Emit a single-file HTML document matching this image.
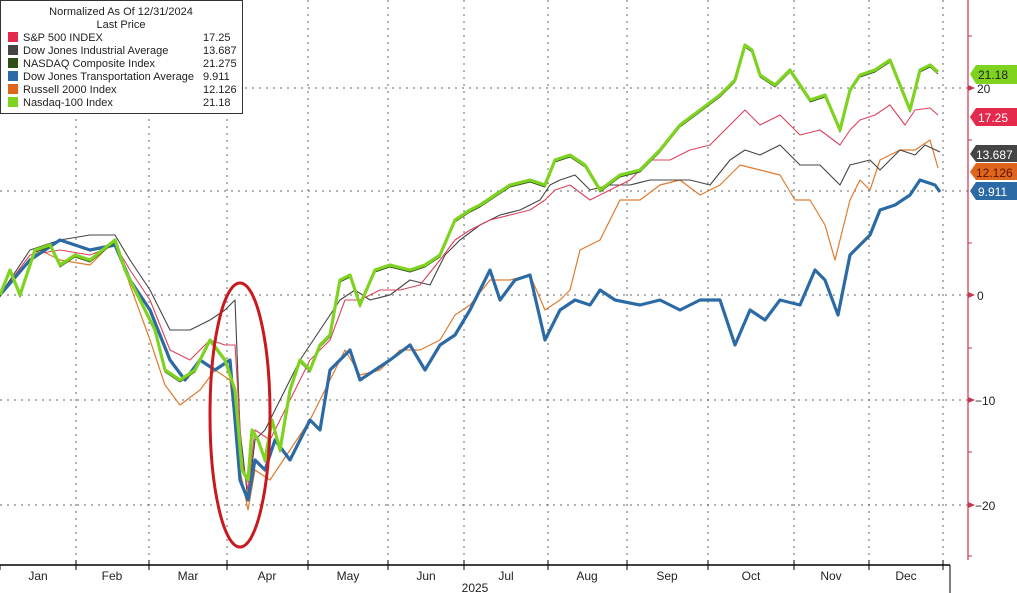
<!DOCTYPE html>
<html><head><meta charset="utf-8"><style>
body{margin:0;background:#fff;}
svg{display:block;font-family:"Liberation Sans",sans-serif;}
</style></head><body>
<svg width="1017" height="593" viewBox="0 0 1017 593" xmlns="http://www.w3.org/2000/svg">
<rect width="1017" height="593" fill="#fff"/>
<g stroke="#666" stroke-width="1" stroke-dasharray="2,5">
<line x1="0" y1="88" x2="968" y2="88"/><line x1="0" y1="191" x2="968" y2="191"/><line x1="0" y1="295" x2="968" y2="295"/><line x1="0" y1="400" x2="968" y2="400"/><line x1="0" y1="505" x2="968" y2="505"/>
<line x1="76" y1="0" x2="76" y2="565"/><line x1="149" y1="0" x2="149" y2="565"/><line x1="227" y1="0" x2="227" y2="565"/><line x1="308" y1="0" x2="308" y2="565"/><line x1="388" y1="0" x2="388" y2="565"/><line x1="464" y1="0" x2="464" y2="565"/><line x1="548" y1="0" x2="548" y2="565"/><line x1="627" y1="0" x2="627" y2="565"/><line x1="708" y1="0" x2="708" y2="565"/><line x1="794" y1="0" x2="794" y2="565"/><line x1="869" y1="0" x2="869" y2="565"/><line x1="943" y1="0" x2="943" y2="565"/>
</g>
<g fill="none" stroke-linejoin="round">
<polyline stroke="#e07a2e" stroke-width="1.2" points="0,295 20,270 40,250 60,260 90,265 115,240 130,285 150,340 165,385 180,405 200,390 215,370 230,380 240,470 248,510 255,470 270,480 290,450 310,420 330,380 345,350 360,375 380,370 400,350 420,350 440,340 455,315 470,305 490,280 510,280 530,275 545,310 560,300 570,290 580,250 600,240 620,200 640,200 660,185 680,180 700,195 720,185 740,165 760,170 780,175 795,200 810,200 825,225 835,260 850,200 860,180 870,190 880,160 900,150 915,150 930,140 938,168"/>
<polyline stroke="#444" stroke-width="1.1" points="0,295 30,250 60,240 90,235 115,235 130,260 150,290 170,330 190,330 210,320 225,310 235,300 240,430 248,500 255,440 265,430 280,400 300,360 320,330 340,300 355,290 370,300 390,295 410,280 430,285 445,255 460,240 480,225 500,215 520,210 540,200 550,185 560,180 575,175 590,190 610,185 630,185 650,180 670,180 690,180 710,185 730,160 745,150 760,155 780,145 800,165 820,165 840,185 850,165 870,160 880,170 900,150 915,155 925,145 940,152"/>
<polyline stroke="#d9435e" stroke-width="1.1" points="0,295 30,255 60,250 90,255 115,245 130,270 150,300 170,350 190,360 210,340 225,345 235,345 242,460 248,490 255,430 270,440 290,400 310,360 330,340 345,300 360,300 380,290 400,290 420,285 440,260 455,240 470,230 490,220 510,215 530,210 545,200 555,190 570,185 590,200 610,190 630,180 650,160 670,160 690,150 710,145 730,125 745,110 760,125 780,115 800,135 820,130 840,145 850,130 860,120 875,115 890,105 905,125 915,110 930,108 938,115"/>
<polyline stroke="#2c6aa5" stroke-width="3.2" points="0,295 30,260 60,240 90,250 115,245 130,280 150,310 170,360 185,380 200,360 215,370 230,360 240,480 248,500 255,460 265,470 275,440 290,460 300,440 310,420 320,430 330,370 340,360 350,350 360,380 375,370 390,360 410,345 425,370 440,345 455,335 470,310 480,290 490,270 500,300 515,280 530,275 545,340 560,310 575,300 590,305 600,290 615,300 640,305 660,300 680,310 700,300 720,300 735,345 750,310 765,320 780,300 800,305 815,270 825,280 838,315 850,255 870,235 880,210 895,205 910,195 920,180 935,185 940,192"/>
<polyline stroke="#2e5016" stroke-width="1" points="0,297 10,272 20,297 35,252 50,247 60,267 75,257 90,262 115,242 125,272 140,302 155,332 165,372 180,382 195,372 210,342 225,362 235,392 242,472 248,482 252,432 258,442 265,462 272,422 280,452 290,392 300,362 310,372 320,347 330,337 340,282 350,277 360,307 375,272 390,267 410,272 425,267 440,257 455,222 470,212 480,207 495,197 510,187 530,182 545,187 555,162 570,157 585,167 600,192 620,177 640,172 660,152 680,127 700,112 720,97 735,82 745,47 752,52 760,77 775,87 790,72 810,102 825,97 840,132 850,92 860,77 875,72 890,62 900,87 910,112 920,72 930,67 938,74"/>
<polyline stroke="#7ed321" stroke-width="3.2" points="0,295 10,270 20,295 35,250 50,245 60,265 75,255 90,260 115,240 125,270 140,300 155,330 165,370 180,380 195,370 210,340 225,360 235,390 242,470 248,480 252,430 258,440 265,460 272,420 280,450 290,390 300,360 310,370 320,345 330,335 340,280 350,275 360,305 375,270 390,265 410,270 425,265 440,255 455,220 470,210 480,205 495,195 510,185 530,180 545,185 555,160 570,155 585,165 600,190 620,175 640,170 660,150 680,125 700,110 720,95 735,80 745,45 752,50 760,75 775,85 790,70 810,100 825,95 840,130 850,90 860,75 875,70 890,60 900,85 910,110 920,70 930,65 938,72"/>
</g>
<ellipse cx="240" cy="415" rx="30" ry="132" fill="none" stroke="#c8191e" stroke-width="3"/>
<line x1="0" y1="565" x2="950" y2="565" stroke="#000" stroke-width="1.5"/>
<g stroke="#000"><line x1="0" y1="565" x2="0" y2="570"/><line x1="76" y1="560" x2="76" y2="570"/><line x1="149" y1="560" x2="149" y2="570"/><line x1="227" y1="560" x2="227" y2="570"/><line x1="308" y1="560" x2="308" y2="570"/><line x1="388" y1="560" x2="388" y2="570"/><line x1="464" y1="560" x2="464" y2="570"/><line x1="548" y1="560" x2="548" y2="570"/><line x1="627" y1="560" x2="627" y2="570"/><line x1="708" y1="560" x2="708" y2="570"/><line x1="794" y1="560" x2="794" y2="570"/><line x1="869" y1="560" x2="869" y2="570"/><line x1="943" y1="560" x2="943" y2="570"/><line x1="950" y1="565" x2="950" y2="593"/></g>
<g font-size="12" fill="#222" text-anchor="middle">
<text x="38" y="580">Jan</text><text x="112" y="580">Feb</text><text x="188" y="580">Mar</text><text x="267" y="580">Apr</text><text x="348" y="580">May</text><text x="426" y="580">Jun</text><text x="506" y="580">Jul</text><text x="587" y="580">Aug</text><text x="667" y="580">Sep</text><text x="751" y="580">Oct</text><text x="831" y="580">Nov</text><text x="906" y="580">Dec</text>
<text x="475" y="592">2025</text>
</g>
<line x1="968" y1="0" x2="968" y2="560" stroke="#c8334d" stroke-width="1.2"/>
<g stroke="#c8334d"><line x1="968" y1="36" x2="972" y2="36"/><line x1="968" y1="140" x2="972" y2="140"/><line x1="968" y1="243" x2="972" y2="243"/><line x1="968" y1="348" x2="972" y2="348"/><line x1="968" y1="452" x2="972" y2="452"/><line x1="968" y1="556" x2="972" y2="556"/></g>
<g fill="#c8334d"><polygon points="968,85 975,88 968,91"/><polygon points="968,292 975,295 968,298"/><polygon points="968,397 975,400 968,403"/><polygon points="968,502 975,505 968,508"/></g>
<g font-size="12" fill="#222"><text x="977" y="93">20</text><text x="977" y="300">0</text><text x="975" y="405">−10</text><text x="975" y="510">−20</text></g>
<g font-size="12" fill="#fff">
<polygon points="970,74 976,65 1017,65 1017,84 976,84" fill="#7ed321"/><text x="978" y="79" fill="#222">21.18</text>
<polygon points="970,117 976,108 1017,108 1017,126 976,126" fill="#e5294d"/><text x="978" y="122">17.25</text>
<polygon points="970,154 976,145 1017,145 1017,162 976,162" fill="#444"/><text x="976" y="159">13.687</text>
<polygon points="970,172 976,163 1017,163 1017,180 976,180" fill="#e0651c"/><text x="976" y="177" fill="#5a1400">12.126</text>
<polygon points="970,191 976,182 1017,182 1017,200 976,200" fill="#2c6aa5"/><text x="978" y="196">9.911</text>
</g>
<rect x="0.5" y="0.5" width="242" height="113" fill="#fff" stroke="#333"/>
<g font-size="11" fill="#222">
<text x="121" y="15" text-anchor="middle">Normalized As Of 12/31/2024</text>
<text x="121" y="28" text-anchor="middle">Last Price</text>
<rect x="8" y="32" width="10" height="10" fill="#e5294d"/><text x="23" y="41">S&amp;P 500 INDEX</text><text x="203" y="41">17.25</text>
<rect x="8" y="45" width="10" height="10" fill="#444"/><text x="23" y="54">Dow Jones Industrial Average</text><text x="203" y="54">13.687</text>
<rect x="8" y="58" width="10" height="10" fill="#2e5016"/><text x="23" y="67">NASDAQ Composite Index</text><text x="203" y="67">21.275</text>
<rect x="8" y="71" width="10" height="10" fill="#2c6aa5"/><text x="23" y="80">Dow Jones Transportation Average</text><text x="203" y="80">9.911</text>
<rect x="8" y="84" width="10" height="10" fill="#e0651c"/><text x="23" y="93">Russell 2000 Index</text><text x="203" y="93">12.126</text>
<rect x="8" y="97" width="10" height="10" fill="#7ed321"/><text x="23" y="106">Nasdaq-100 Index</text><text x="203" y="106">21.18</text>
</g>
</svg>
</body></html>
